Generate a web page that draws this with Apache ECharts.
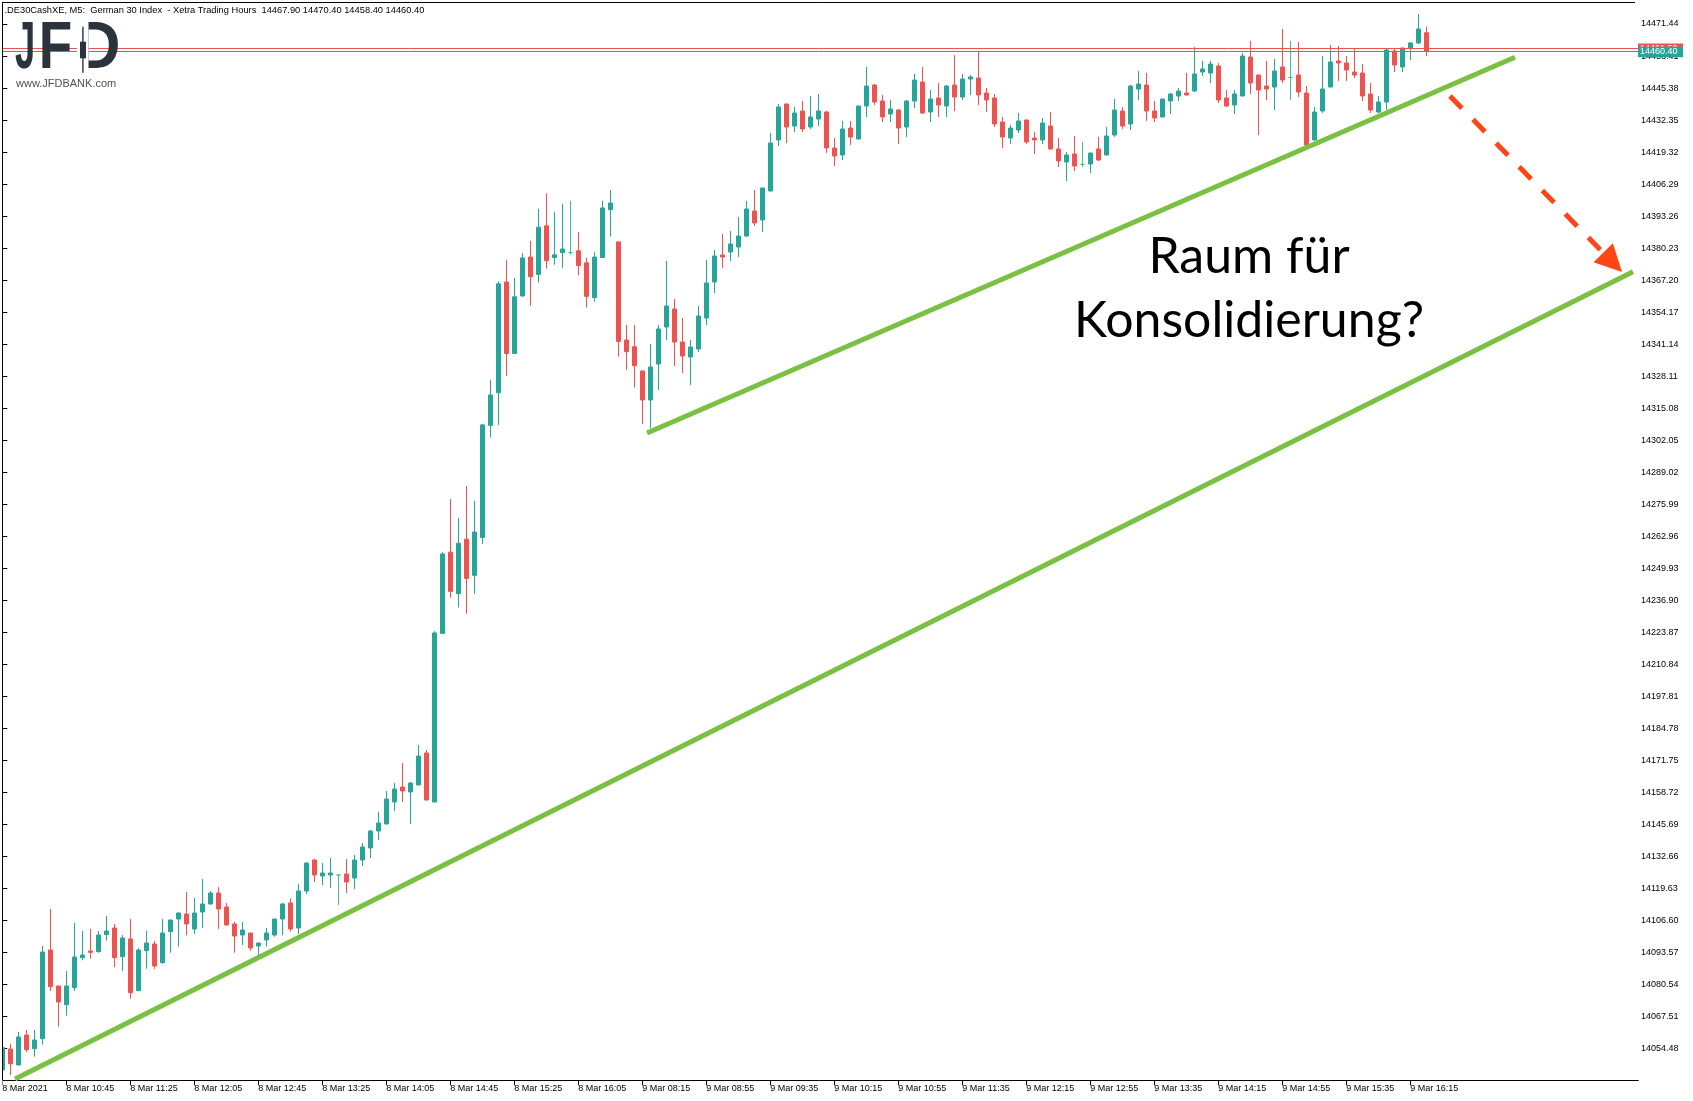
<!DOCTYPE html>
<html>
<head>
<meta charset="utf-8">
<script src="https://cdn.jsdelivr.net/npm/echarts/dist/echarts.min.js"></script>
<style>html,body{margin:0;padding:0;background:#fff}#c{width:1693px;height:1101px}</style>
</head>
<body>
<div id="c"></div>
<script>
// ---------- data ----------
const titleText = '.DE30CashXE, M5:  German 30 Index  - Xetra Trading Hours  14467.90 14470.40 14458.40 14460.40';
const firstTickLabel = '8 Mar 2021';
const session1 = { day: '8 Mar', startMin: 10 * 60 + 5, endMin: 16 * 60 + 25 };
const session2 = { day: '9 Mar', startMin: 8 * 60, endMin: 16 * 60 + 25 };
const barMinutes = 5;
const labelEvery = 8;
const padBars = 26;

const yTickMin = 14041.45;
const yTickStep = 13.03;
const yMax = 14480.40;

const bidPrice = 14460.40;
const askPrice = 14461.50;

const openPrices = [
14045.65,14054.19,14047.68,14059.89,14054.33,14058.40,14094.49,14079.84,14072.24,14079.16,
14091.37,14094.09,14093.82,14100.74,14103.45,14091.78,14098.97,14077.94,14094.22,14096.94,
14089.34,14101.96,14107.11,14109.15,14103.04,14109.96,14113.22,14117.70,14112.00,14105.08,
14100.60,14101.41,14096.12,14098.57,14100.60,14107.11,14113.63,14103.45,14118.51,14131.13,
14124.62,14125.02,14125.00,14125.43,14123.80,14131.13,14136.01,14142.93,14145.78,14154.74,
14160.84,14158.81,14161.66,14174.68,14154.74,14223.38,14256.45,14239.55,14261.72,14247.00,
14262.45,14308.06,14321.33,14366.40,14337.32,14360.76,14376.57,14369.49,14389.29,14376.39,
14378.39,14378.39,14379.12,14374.21,14360.04,14376.39,14395.84,14382.75,14342.79,14340.08,
14330.19,14318.39,14333.04,14348.10,14355.43,14341.99,14335.89,14339.15,14351.77,14366.42,
14377.41,14378.63,14380.67,14385.15,14395.32,14391.66,14403.46,14424.22,14438.88,14429.92,
14436.03,14429.52,14432.77,14435.62,14420.97,14418.12,14429.10,14424.63,14438.06,14446.61,
14440.10,14434.81,14436.43,14429.51,14440.10,14447.83,14435.62,14441.32,14438.06,14446.61,
14441.72,14449.05,14449.46,14443.35,14441.32,14431.55,14425.03,14428.29,14432.36,14425.03,
14424.22,14429.92,14420.56,14415.26,14418.52,14414.30,14414.45,14420.56,14418.12,14426.26,
14436.03,14430.73,14444.98,14446.61,14436.03,14433.58,14440.10,14442.13,14443.35,14444.17,
14451.90,14451.50,14454.34,14441.32,14438.47,14442.13,14458.01,14450.68,14446.20,14445.79,
14453.94,14449.70,14450.68,14443.35,14424.22,14436.03,14445.79,14456.38,14455.56,14451.90,
14451.50,14442.95,14435.62,14439.69,14460.45,14453.94,14461.67,14463.71,14467.90];

const closePrices = [
14054.74,14048.22,14059.08,14053.92,14057.86,14093.68,14079.57,14073.33,14079.84,14091.64,
14092.46,14093.54,14100.60,14102.23,14091.37,14099.38,14077.12,14094.49,14097.34,14087.98,
14101.41,14106.71,14109.56,14105.08,14109.56,14113.22,14117.70,14111.18,14104.67,14100.19,
14102.63,14095.31,14097.34,14101.41,14107.11,14113.22,14103.04,14118.51,14129.91,14125.02,
14125.84,14125.84,14125.00,14122.17,14131.13,14136.42,14142.93,14146.19,14155.96,14160.03,
14159.22,14162.47,14173.46,14155.55,14223.56,14255.72,14240.46,14260.09,14245.73,14264.63,
14308.25,14320.42,14365.67,14337.32,14360.40,14376.21,14368.58,14388.75,14375.12,14377.48,
14379.84,14378.39,14373.12,14360.58,14376.57,14396.56,14398.56,14342.22,14338.06,14332.32,
14318.39,14331.82,14347.29,14356.65,14341.99,14336.30,14339.96,14352.58,14366.01,14377.00,
14376.60,14381.89,14385.15,14396.13,14390.44,14404.68,14423.00,14437.66,14429.52,14435.21,
14428.70,14433.59,14436.03,14420.97,14417.71,14428.70,14425.44,14438.06,14446.20,14439.69,
14433.58,14436.84,14429.10,14440.10,14448.64,14435.21,14440.91,14438.47,14446.20,14441.72,
14449.05,14449.87,14442.54,14440.50,14430.73,14425.44,14429.10,14431.96,14423.41,14424.22,
14431.14,14420.56,14415.67,14418.12,14413.64,14414.30,14418.93,14416.08,14425.85,14436.43,
14429.92,14446.20,14447.02,14436.03,14433.17,14440.91,14442.95,14444.17,14442.54,14451.09,
14453.12,14455.16,14440.50,14438.06,14442.95,14458.41,14447.42,14444.57,14444.98,14452.31,
14448.64,14449.70,14443.76,14422.19,14435.62,14444.98,14455.97,14455.56,14452.71,14450.68,
14442.13,14436.43,14439.69,14460.86,14454.75,14461.67,14463.71,14469.40,14460.40];

const lowPrices = [
14045.40,14043.61,14047.50,14052.97,14051.07,14055.96,14077.80,14063.28,14067.76,14077.80,
14090.29,14091.00,14093.41,14098.29,14087.57,14085.95,14074.68,14077.70,14086.90,14086.76,
14088.93,14093.41,14095.85,14100.46,14101.01,14103.45,14113.00,14103.04,14104.50,14093.41,
14096.53,14094.22,14092.19,14095.85,14099.92,14100.50,14102.00,14101.01,14117.29,14122.17,
14120.95,14119.73,14112.81,14117.70,14119.33,14128.69,14131.94,14139.27,14145.70,14151.08,
14154.74,14145.78,14161.60,14155.40,14154.60,14223.30,14237.91,14233.91,14231.37,14239.55,
14259.73,14303.16,14308.24,14328.23,14337.20,14360.40,14356.76,14366.22,14371.85,14373.48,
14372.21,14377.48,14369.12,14356.04,14358.40,14376.30,14384.93,14336.05,14330.70,14323.46,
14308.62,14306.85,14322.46,14342.81,14332.23,14329.37,14324.49,14337.93,14348.92,14361.94,
14372.12,14374.97,14376.60,14384.74,14389.22,14386.77,14403.30,14421.78,14423.00,14427.48,
14427.48,14428.70,14429.92,14418.93,14413.64,14416.08,14422.19,14424.50,14433.58,14438.47,
14431.55,14431.55,14422.59,14425.44,14437.25,14434.80,14431.55,14433.58,14433.58,14436.03,
14440.50,14442.54,14438.47,14435.62,14429.51,14420.96,14422.59,14427.07,14422.59,14418.52,
14422.59,14420.40,14413.23,14407.53,14411.60,14413.23,14410.79,14415.67,14418.00,14425.44,
14428.70,14428.29,14440.50,14431.96,14431.55,14433.50,14434.80,14440.10,14442.40,14443.76,
14450.27,14447.42,14439.28,14437.65,14434.80,14442.00,14442.95,14426.26,14440.50,14436.43,
14447.42,14440.50,14441.72,14422.00,14424.00,14435.21,14445.70,14448.24,14448.24,14449.46,
14440.10,14435.21,14435.21,14436.43,14451.90,14451.90,14456.78,14463.30,14458.40];

const highPrices = [
14055.00,14056.36,14061.11,14061.93,14061.93,14096.12,14111.18,14080.00,14085.95,14105.48,
14102.23,14103.04,14102.23,14108.33,14105.08,14100.60,14107.11,14095.31,14102.36,14098.16,
14107.11,14106.80,14109.70,14118.10,14115.66,14123.40,14118.51,14120.14,14113.63,14105.89,
14105.89,14101.50,14097.40,14103.45,14107.20,14113.63,14115.50,14121.36,14130.20,14131.54,
14129.91,14131.94,14125.10,14131.54,14133.17,14138.05,14143.34,14150.67,14159.22,14162.47,
14170.61,14162.88,14177.94,14175.91,14224.29,14256.45,14278.08,14270.26,14283.35,14277.35,
14308.61,14326.60,14366.76,14375.30,14368.03,14378.21,14383.12,14396.20,14402.56,14394.93,
14398.20,14399.47,14386.75,14376.21,14378.57,14399.47,14403.83,14382.80,14348.93,14348.93,
14330.30,14341.18,14348.92,14374.97,14359.50,14351.76,14342.81,14356.65,14375.38,14379.45,
14385.96,14387.18,14392.88,14399.39,14403.87,14404.80,14427.07,14438.88,14439.00,14437.66,
14440.10,14442.13,14442.95,14436.03,14425.04,14431.96,14431.96,14438.20,14453.94,14447.02,
14442.54,14440.50,14436.84,14440.50,14451.09,14453.94,14444.57,14447.42,14446.61,14458.82,
14451.09,14450.68,14460.45,14445.39,14442.95,14433.58,14430.33,14435.21,14432.50,14427.48,
14433.17,14435.62,14425.03,14419.34,14425.85,14423.41,14419.00,14425.44,14429.51,14440.91,
14437.65,14446.61,14452.31,14451.50,14440.10,14441.00,14443.35,14445.39,14451.50,14462.08,
14456.38,14456.38,14455.56,14444.57,14444.57,14459.63,14464.52,14450.80,14456.38,14457.19,
14469.40,14464.52,14464.11,14446.20,14437.65,14458.41,14462.89,14462.48,14458.41,14461.67,
14455.16,14447.42,14442.13,14461.26,14461.26,14461.80,14464.11,14475.51,14470.40];

// trend lines & arrow in data space: [bar index, price]
const lowerTrend = [[1.59, 14041.99], [203.84, 14370.61]];
const upperTrend = [[80.59, 14304.95], [189.09, 14457.88]];
const arrowPath = [[180.96, 14442.13], [201.29, 14374.39]];
const annotationLines = ['Raum für', 'Konsolidierung?'];

// ---------- build ----------
function sessionTimes(s) {
  const out = [];
  for (let m = s.startMin; m <= s.endMin; m += barMinutes) {
    const h = Math.floor(m / 60), mm = m % 60;
    out.push(s.day + ' ' + String(h).padStart(2, '0') + ':' + String(mm).padStart(2, '0'));
  }
  return out;
}
const barTimes = sessionTimes(session1).concat(sessionTimes(session2));
const categories = barTimes.concat(new Array(padBars).fill(''));
const nCat = categories.length;
const candleData = openPrices.map((o, i) => [o, closePrices[i], lowPrices[i], highPrices[i]]);
const lastIdx = barTimes.length - 1;
const showLabel = (i) => i % labelEvery === 0 && i <= lastIdx;

const BAR_PX = 8;
const gridLeft = -1.7, gridTop = 2, gridBottomY = 1080.3;
const gridWidth = nCat * BAR_PX;

const chart = echarts.init(document.getElementById('c'), null, { renderer: 'canvas' });
const FONT = '"Liberation Sans", Arial, sans-serif';
const greenTrend = '#7ac143';
const arrowColor = '#ff4516';

const option = {
  animation: false,
  backgroundColor: '#ffffff',
  grid: { left: gridLeft, top: gridTop, width: gridWidth, height: gridBottomY - gridTop, containLabel: false, outerBoundsMode: 'none' },
  xAxis: [
    {
      type: 'category', data: categories, boundaryGap: true,
      axisLine: { show: true, lineStyle: { color: '#000', width: 1 } },
      axisTick: { show: true, alignWithLabel: true, length: 5, interval: (i) => showLabel(i), lineStyle: { color: '#000', width: 1 } },
      axisLabel: {
        show: true, interval: (i) => showLabel(i), align: 'left', margin: 4,
        fontFamily: FONT, fontSize: 9, color: '#000',
        formatter: (v, i) => (i === 0 ? firstTickLabel : v)
      },
      splitLine: { show: false }
    },
    { type: 'value', min: -0.5, max: nCat - 0.5, show: false }
  ],
  yAxis: {
    type: 'value', position: 'right', min: yTickMin, max: yMax, interval: yTickStep, offset: -3.3, scale: true,
    axisLine: { show: true, lineStyle: { color: '#000', width: 1 } },
    axisTick: { show: true, inside: false, length: 5, lineStyle: { color: '#000', width: 1 } },
    axisLabel: { showMinLabel: false, showMaxLabel: true, margin: 6, fontFamily: FONT, fontSize: 9, color: '#000',
      formatter: (v) => (v < yTickMin + 0.001 || v > yMax - 0.001 ? '' : v.toFixed(2)) },
    splitLine: { show: false }
  },
  series: [
    {
      type: 'candlestick', xAxisIndex: 0, yAxisIndex: 0, data: candleData, barWidth: 4, z: 2,
      itemStyle: { color: '#26a69a', color0: '#ef5350', borderColor: '#26a69a', borderColor0: '#ef5350', borderColorDoji: '#4cbb8c', borderWidth: 1 },
      markLine: {
        silent: true, symbol: ['none', 'none'], label: { show: false }, animation: false,
        data: [
          { yAxis: askPrice, lineStyle: { color: '#ef5350', width: 1, type: 'solid' } },
          { yAxis: bidPrice, lineStyle: { color: '#26a69a', width: 1, type: 'solid' } }
        ]
      }
    },
    { type: 'line', xAxisIndex: 1, yAxisIndex: 0, data: lowerTrend, showSymbol: false, symbol: 'none', silent: true, z: 5,
      lineStyle: { color: greenTrend, width: 5, cap: 'butt' } },
    { type: 'line', xAxisIndex: 1, yAxisIndex: 0, data: upperTrend, showSymbol: false, symbol: 'none', silent: true, z: 5,
      lineStyle: { color: greenTrend, width: 5, cap: 'butt' } },
    { type: 'lines', coordinateSystem: 'cartesian2d', xAxisIndex: 1, yAxisIndex: 0, silent: true, z: 6,
      symbol: ['none', 'triangle'], symbolSize: 27,
      lineStyle: { color: arrowColor, width: 5, type: [17, 16], cap: 'butt', opacity: 1, curveness: 0 },
      data: [{ coords: arrowPath }] }
  ]
};
chart.setOption(option);

function txt(id, x, y, text, font, fill, align, vAlign, extra) {
  return Object.assign({ type: 'text', id, x, y, z: 100,
    style: { text, font, fill, align, textAlign: align, verticalAlign: vAlign, textVerticalAlign: vAlign } }, extra || {});
}
const logoColor = '#2b343c';
const logoFont = 'bold 66px "Liberation Sans", Arial, sans-serif';
const noteFont = '50px Lato, "Open Sans", sans-serif';
const yBid = chart.convertToPixel({ yAxisIndex: 0 }, bidPrice);
const yAsk = chart.convertToPixel({ yAxisIndex: 0 }, askPrice);
const axisX = 1635;

const graphics = [
  { type: 'rect', id: 'leftMask', z: 90, shape: { x: 0, y: 0, width: 2.5, height: 1101 }, style: { fill: '#fff' } },
  { type: 'line', id: 'frameTop', z: 91, shape: { x1: 2.5, y1: 2.5, x2: axisX, y2: 2.5 }, style: { stroke: '#000', lineWidth: 1 } },
  { type: 'line', id: 'frameLeft', z: 91, shape: { x1: 2.5, y1: 2.5, x2: 2.5, y2: gridBottomY }, style: { stroke: '#000', lineWidth: 1 } },
  txt('title', 4.5, 10, titleText, '9.3px ' + FONT, '#000', 'left', 'middle'),
  // logo
  txt('logoJ', 15, 50, 'J', logoFont, logoColor, 'left', 'middle', { scaleX: 0.55 }),
  txt('logoF', 38.8, 50, 'F', logoFont, logoColor, 'left', 'middle', { scaleX: 0.83 }),
  txt('logoD', 75.2, 50, 'D', logoFont, logoColor, 'left', 'middle', { scaleX: 0.95 }),
  { type: 'rect', id: 'logoMask', z: 101, shape: { x: 77, y: 22, width: 11.5, height: 56 }, style: { fill: '#fff' } },
  { type: 'rect', id: 'logoWick', z: 102, shape: { x: 82.2, y: 26.7, width: 1.4, height: 46 }, style: { fill: logoColor } },
  { type: 'rect', id: 'logoBody', z: 102, shape: { x: 80, y: 41.7, width: 6, height: 16.6 }, style: { fill: logoColor } },
  txt('logoUrl', 16, 83.5, 'www.JFDBANK.com', '11px ' + FONT, '#4a525a', 'left', 'middle'),
  // annotation
  txt('note1', 1249, 257, annotationLines[0], noteFont, '#000', 'center', 'middle'),
  txt('note2', 1249, 321, annotationLines[1], noteFont, '#000', 'center', 'middle'),
  // price tags
  { type: 'rect', id: 'askTag', z: 110, shape: { x: 1638, y: yAsk - 5, width: 45, height: 10 }, style: { fill: '#ef5350' } },
  txt('askTxt', 1640, yAsk, askPrice.toFixed(2), '9px ' + FONT, '#fff', 'left', 'middle', { z: 111 }),
  { type: 'rect', id: 'bidTag', z: 112, shape: { x: 1638, y: yBid - 4.5, width: 45, height: 10.5 }, style: { fill: '#26a69a' } },
  txt('bidTxt', 1640, yBid + 0.8, bidPrice.toFixed(2), '9px ' + FONT, '#fff', 'left', 'middle', { z: 113 })
];
chart.setOption({ graphic: graphics });
</script>
</body>
</html>
